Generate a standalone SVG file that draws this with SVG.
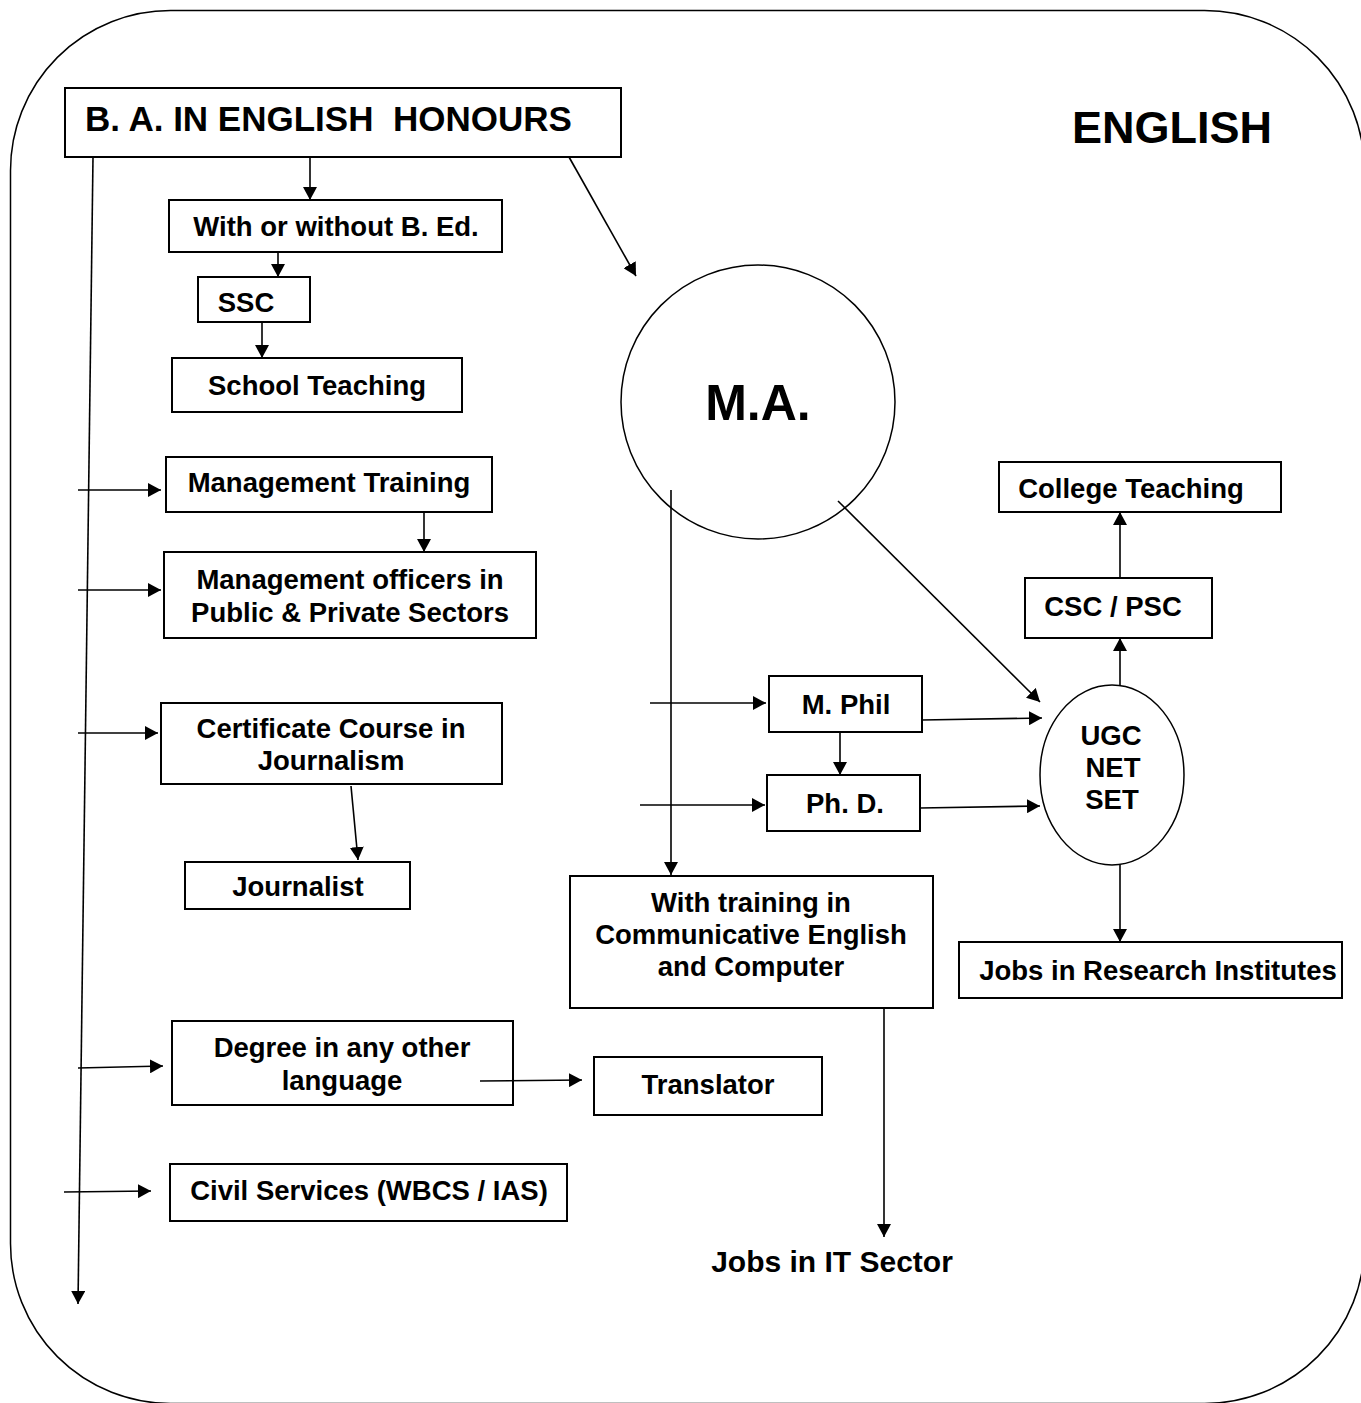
<svg xmlns="http://www.w3.org/2000/svg" width="1361" height="1403" viewBox="0 0 1361 1403">
<style>
.b{fill:#fff;stroke:#000;stroke-width:2}
.t{font-family:"Liberation Sans",Arial,sans-serif;font-weight:bold;font-size:27.5px;fill:#000;text-anchor:middle}
.c line{stroke:#000;stroke-width:1.6;marker-end:url(#ah)}
</style>
<defs>
<marker id="ah" viewBox="0 0 13 14" refX="13" refY="7" markerWidth="13" markerHeight="14" markerUnits="userSpaceOnUse" orient="auto"><path d="M0,0 L13,7 L0,14 z" fill="#000"/></marker>
</defs>
<rect width="1361" height="1403" fill="#fff"/>
<rect id="frame" x="10.5" y="10.5" width="1354" height="1393" rx="160" ry="160" fill="none" stroke="#000" stroke-width="1.5"/>
<text x="1172" y="143" class="t" style="font-size:45px">ENGLISH</text>

<g id="ba"><rect class="b" x="65" y="88" width="556" height="69"/><text x="85" y="131" class="t" style="font-size:35px;text-anchor:start;white-space:pre" xml:space="preserve">B. A. IN ENGLISH  HONOURS</text></g>
<g id="bed"><rect class="b" x="169" y="200" width="333" height="52"/><text x="336" y="236" class="t">With or without B. Ed.</text></g>
<g id="ssc"><rect class="b" x="198" y="277" width="112" height="45"/><text x="246" y="312" class="t">SSC</text></g>
<g id="school"><rect class="b" x="172" y="358" width="290" height="54"/><text x="317" y="395" class="t">School Teaching</text></g>
<g id="ma"><circle cx="758" cy="402" r="137" fill="#fff" stroke="#000" stroke-width="1.5"/><text x="758" y="420" class="t" style="font-size:50px">M.A.</text></g>
<g id="mgmt"><rect class="b" x="166" y="457" width="326" height="55"/><text x="329" y="492" class="t">Management Training</text></g>
<g id="officers"><rect class="b" x="164" y="552" width="372" height="86"/><text x="350" y="589" class="t">Management officers in</text><text x="350" y="622" class="t">Public &amp; Private Sectors</text></g>
<g id="cert"><rect class="b" x="161" y="703" width="341" height="81"/><text x="331" y="738" class="t">Certificate Course in</text><text x="331" y="770" class="t">Journalism</text></g>
<g id="journalist"><rect class="b" x="185" y="862" width="225" height="47"/><text x="298" y="896" class="t">Journalist</text></g>
<g id="degree"><rect class="b" x="172" y="1021" width="341" height="84"/><text x="342" y="1057" class="t">Degree in any other</text><text x="342" y="1090" class="t">language</text></g>
<g id="translator"><rect class="b" x="594" y="1057" width="228" height="58"/><text x="708" y="1094" class="t">Translator</text></g>
<g id="civil"><rect class="b" x="170" y="1164" width="397" height="57"/><text x="369" y="1200" class="t">Civil Services (WBCS / IAS)</text></g>
<g id="training"><rect class="b" x="570" y="876" width="363" height="132"/><text x="751" y="912" class="t">With training in</text><text x="751" y="944" class="t">Communicative English</text><text x="751" y="976" class="t">and Computer</text></g>
<g id="it"><text x="832" y="1272" class="t" style="font-size:30px">Jobs in IT Sector</text></g>
<g id="mphil"><rect class="b" x="769" y="676" width="153" height="56"/><text x="846" y="714" class="t">M. Phil</text></g>
<g id="phd"><rect class="b" x="767" y="775" width="153" height="56"/><text x="845" y="813" class="t">Ph. D.</text></g>
<g id="ugc"><ellipse cx="1112" cy="775" rx="72" ry="90" fill="#fff" stroke="#000" stroke-width="1.5"/><text x="1111" y="745" class="t">UGC</text><text x="1113" y="777" class="t">NET</text><text x="1112" y="809" class="t">SET</text></g>
<g id="cscpsc"><rect class="b" x="1025" y="578" width="187" height="60"/><text x="1113" y="616" class="t">CSC / PSC</text></g>
<g id="college"><rect class="b" x="999" y="462" width="282" height="50"/><text x="1131" y="498" class="t">College Teaching</text></g>
<g id="research"><rect class="b" x="959" y="942" width="383" height="56"/><text x="1158" y="980" class="t">Jobs in Research Institutes</text></g>

<g id="connectors" class="c">
<line x1="93" y1="157" x2="78" y2="1304"/>
<line x1="310" y1="157" x2="310" y2="200"/>
<line x1="278" y1="252" x2="278" y2="277"/>
<line x1="262" y1="322" x2="262" y2="358"/>
<line x1="569" y1="157" x2="636" y2="276"/>
<line x1="78" y1="490" x2="161" y2="490"/>
<line x1="424" y1="512" x2="424" y2="552"/>
<line x1="78" y1="590" x2="161" y2="590"/>
<line x1="78" y1="733" x2="158" y2="733"/>
<line x1="351" y1="786" x2="358" y2="860"/>
<line x1="78" y1="1068" x2="163" y2="1066"/>
<line x1="480" y1="1081" x2="582" y2="1080"/>
<line x1="64" y1="1192" x2="151" y2="1191"/>
<line x1="671" y1="490" x2="671" y2="875"/>
<line x1="884" y1="1008" x2="884" y2="1237"/>
<line x1="650" y1="703" x2="766" y2="703"/>
<line x1="640" y1="805" x2="765" y2="805"/>
<line x1="840" y1="732" x2="840" y2="775"/>
<line x1="922" y1="720" x2="1042" y2="718"/>
<line x1="920" y1="808" x2="1040" y2="806"/>
<line x1="838" y1="501" x2="1040" y2="702"/>
<line x1="1120" y1="685" x2="1120" y2="638"/>
<line x1="1120" y1="578" x2="1120" y2="512"/>
<line x1="1120" y1="865" x2="1120" y2="942"/>
</g>
</svg>
